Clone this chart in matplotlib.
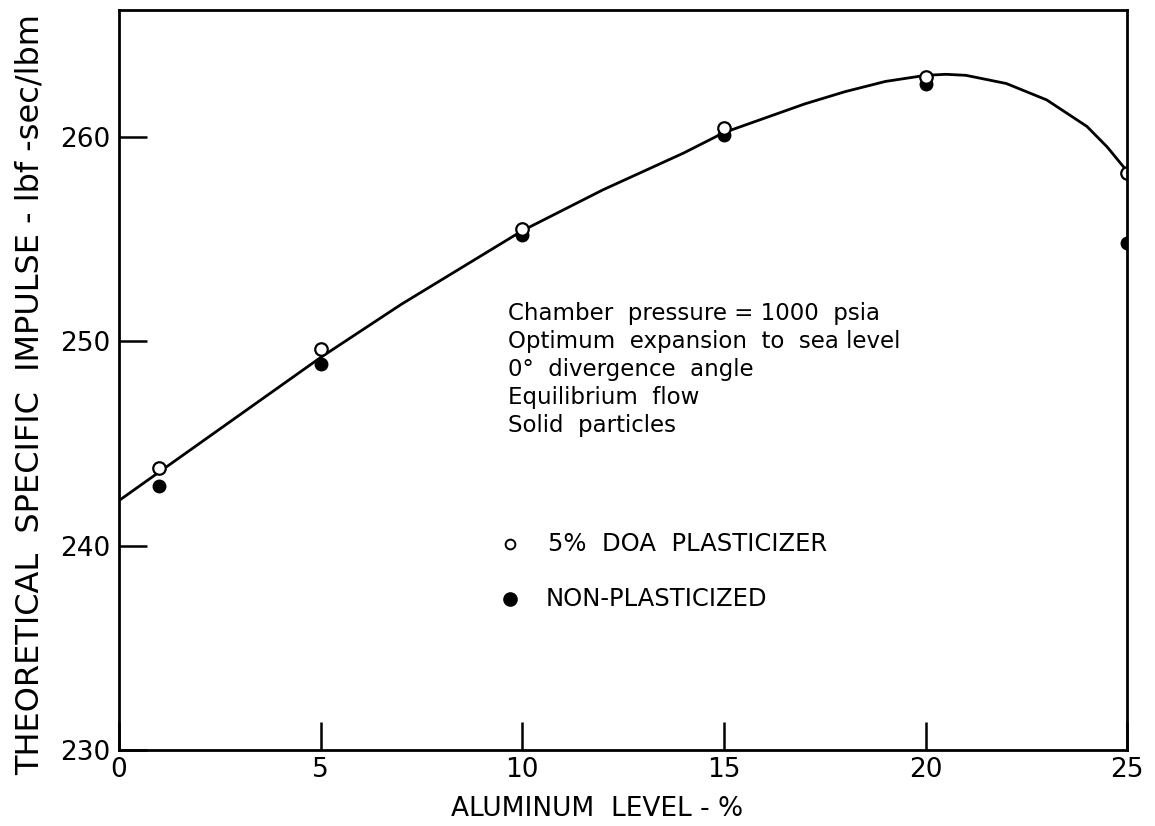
import matplotlib
matplotlib.use("Agg")
import matplotlib.pyplot as plt
import numpy as np

# Теоретический удельный импульс от содержания алюминия
al = np.array([1, 5, 10, 15, 20, 25])
isp_doa = np.array([243.8, 249.6, 255.5, 260.4, 262.9, 258.2])
isp_non = np.array([242.9, 248.9, 255.2, 260.1, 262.6, 254.8])

# Сглаженная кривая, снятая по точкам
curve_x = np.array([0, 1, 2, 3, 4, 5, 6, 7, 8, 9, 10, 11, 12, 13, 14, 15,
                    16, 17, 18, 19, 20, 20.5, 21, 22, 23, 24, 24.5, 25])
curve_y = np.array([242.2, 243.6, 245.0, 246.4, 247.8, 249.2, 250.5, 251.8,
                    253.0, 254.2, 255.4, 256.4, 257.4, 258.3, 259.2, 260.2,
                    260.9, 261.6, 262.2, 262.7, 263.0, 263.05, 263.0, 262.6,
                    261.8, 260.5, 259.5, 258.3])

notes = ["Chamber  pressure = 1000  psia",
         "Optimum  expansion  to  sea level",
         "0°  divergence  angle",
         "Equilibrium  flow",
         "Solid  particles"]

fig = plt.figure(figsize=(11.55, 8.26), dpi=100)
ax = fig.add_axes([0.103, 0.092, 0.873, 0.896])

ax.plot(curve_x, curve_y, '-', color='black', lw=2)
ax.plot(al, isp_non, 'o', color='black', ms=9)
ax.plot(al, isp_doa, 'o', mfc='white', mec='black', mew=1.6, ms=9)

ax.set_xlim(0, 25)
ax.set_ylim(230, 266.2)
ax.set_xticks([0, 5, 10, 15, 20, 25])
ax.set_yticks([230, 240, 250, 260])
ax.tick_params(direction='in', length=20, width=1.8, labelsize=19)
ax.tick_params(axis='x', pad=5)
ax.tick_params(axis='y', pad=6)

for s in ax.spines.values():
    s.set_linewidth(2)

ax.set_xlabel("ALUMINUM  LEVEL - %", fontsize=19)
ax.xaxis.set_label_coords(0.474, -0.062)
ax.set_ylabel("THEORETICAL  SPECIFIC  IMPULSE - lbf -sec/lbm", fontsize=23)
ax.yaxis.set_label_coords(-0.073, 0.48)

for i, t in enumerate(notes):
    ax.text(9.65, 251.35 - i * 1.37, t, fontsize=16.5, va='center', ha='left')

# Легенда
ax.plot([9.7], [240.1], 'o', mfc='white', mec='black', mew=1.4, ms=7)
ax.text(10.64, 240.1, "5%  DOA  PLASTICIZER", fontsize=17.5, va='center')
ax.plot([9.7], [237.4], 'o', color='black', ms=9.5)
ax.text(10.57, 237.4, "NON-PLASTICIZED", fontsize=17.5, va='center')

fig.savefig("out.png", dpi=100)
